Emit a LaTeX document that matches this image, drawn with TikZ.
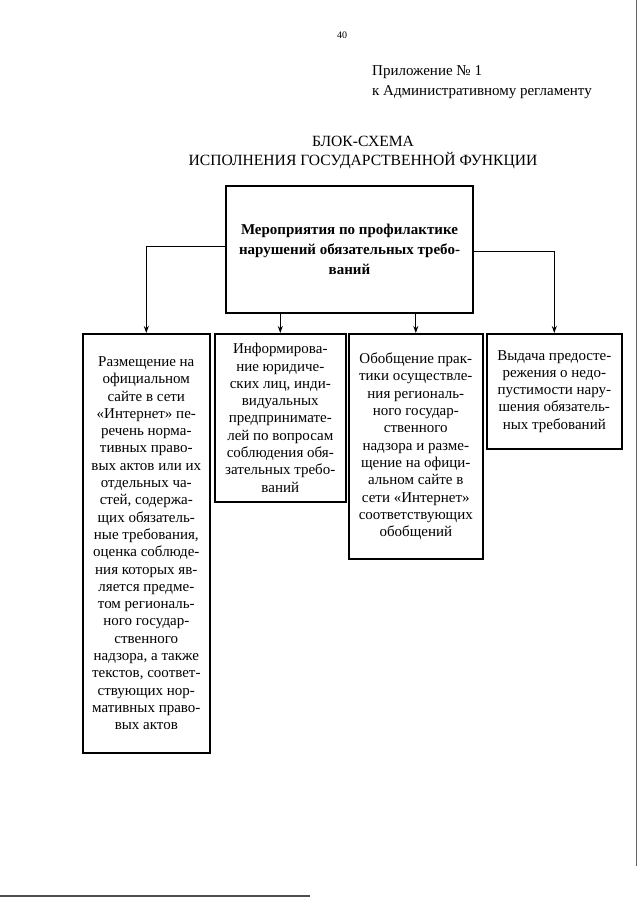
\documentclass[tikz,border=0pt]{standalone}
\usepackage{fontspec}
\setmainfont{Liberation Serif}
\usetikzlibrary{arrows.meta, positioning}

\begin{document}
\begin{tikzpicture}[
    x=1pt, y=-1pt,
    txt/.style={inner sep=0pt, font=\fontsize{15}{19.5}\selectfont},
    box/.style={rectangle, draw, line width=1.6pt, anchor=north west,
                align=center, inner sep=2pt,
                font=\fontsize{15}{17.3}\selectfont},
    mbox/.style={rectangle, draw, line width=2.2pt, align=center,
                minimum width=247pt, minimum height=127pt,
                font=\bfseries\fontsize{15}{20}\selectfont},
    arr/.style={-{Stealth[length=7pt, width=5pt]}, line width=1pt}
]
  \useasboundingbox (0,0) rectangle (640,905);

  \node[font=\fontsize{10}{12}\selectfont] (page) at (342,35) {40};
  \node[txt, anchor=west, align=left] (appx) at (372,82)
       {Приложение № 1\\к Административному регламенту};
  \node[txt, align=center, font=\fontsize{15.6}{19}\selectfont] (title) at (363,152.5)
       {БЛОК-СХЕМА\\ИСПОЛНЕНИЯ ГОСУДАРСТВЕННОЙ ФУНКЦИИ};

  \node[mbox] (main) at (349.5,249.5)
       {Мероприятия по профилактике\\нарушений обязательных требо-\\ваний};

  \node[box, minimum width=127pt, minimum height=419pt] (site) at (82,333)
       {Размещение на\\официальном\\сайте в сети\\«Интернет» пе-\\речень норма-\\
        тивных право-\\вых актов или их\\отдельных ча-\\стей, содержа-\\
        щих обязатель-\\ные требования,\\оценка соблюде-\\ния которых яв-\\
        ляется предме-\\том региональ-\\ного государ-\\ственного\\
        надзора, а также\\текстов, соответ-\\ствующих нор-\\
        мативных право-\\вых актов};
  \node[box, minimum width=131pt, minimum height=168pt] (info) at (214,333)
       {Информирова-\\ние юридиче-\\ских лиц, инди-\\видуальных\\
        предпринимате-\\лей по вопросам\\соблюдения обя-\\зательных требо-\\ваний};
  \node[box, minimum width=134pt, minimum height=225pt] (prac) at (348,333)
       {Обобщение прак-\\тики осуществле-\\ния региональ-\\ного государ-\\
        ственного\\надзора и разме-\\щение на офици-\\альном сайте в\\
        сети «Интернет»\\соответствующих\\обобщений};
  \node[box, minimum width=135pt, minimum height=115pt] (warn) at (486,333)
       {Выдача предосте-\\режения о недо-\\пустимости нару-\\шения обязатель-\\ных требований};

  \draw[arr] ([yshift=3pt]main.west) -| (site.north);
  \draw[arr] (main.south -| info.north) -- (info.north);
  \draw[arr] (main.south -| prac.north) -- (prac.north);
  \draw[arr] ([yshift=-1.5pt]main.east) -| (warn.north);

  % scan edges
  \draw[line width=0.8pt, black!60] (636,0) -- (636,866);
  \draw[line width=1.2pt, black!70] (0,896) -- (310,896);
\end{tikzpicture}
\end{document}
